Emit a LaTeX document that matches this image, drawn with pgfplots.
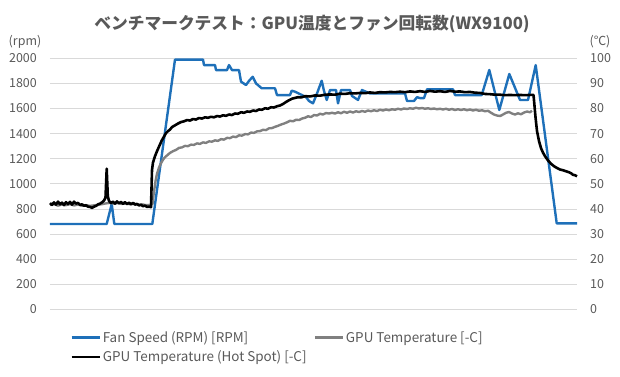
\documentclass[border=0pt]{standalone}
\usepackage{pgfplots}
\pgfplotsset{compat=1.18}
\usepackage{fontspec}
\setmainfont{Noto Sans CJK JP}
\definecolor{fanblue}{RGB}{30,112,185}
\definecolor{tgray}{RGB}{128,128,128}
\definecolor{txt}{RGB}{89,89,89}
\definecolor{gridc}{RGB}{217,217,217}
\pgfplotsset{
  base/.style={
    at={(0,0)}, anchor=south west, scale only axis,
    width=527bp, height=251bp, xmin=50, xmax=577,
    xtick=\empty, axis line style={draw=none}, major tick length=0pt,
    /pgf/number format/assume math mode=true,
    yticklabel style={font=\fontsize{12.5}{14}\selectfont, text=txt, inner sep=0pt},
    clip=false,
  },
}
\begin{document}
\begin{tikzpicture}[x=1bp,y=1bp]
\useasboundingbox (-50,-66.7) rectangle (570,309.3);
\begin{axis}[base, ymin=0, ymax=2000, ytick={0,200,...,2000},
  ymajorgrids, grid style={gridc, line width=0.8bp},
  yticklabel style={anchor=east, xshift=-13bp},
  /pgf/number format/1000 sep={}]
\addplot[fanblue, line width=2.4bp, line join=round] table {
50 680
106.7 680
111.7 840
114.3 680
152.3 680
175 1990
203 1990
204 1946
215 1946
216 1906
227 1906
229 1946
232 1906
239 1906
241 1814
246 1787
249 1820
252.7 1853
256 1800
261.7 1761
275 1761
277 1707
290 1707
291.7 1742
295 1734
302 1707
306 1690
309 1660
313 1641
317 1720
321.7 1821
324 1740
326.7 1668
330 1747
336 1747
338 1641
341 1747
350 1747
352 1700
358 1668
362 1747
370 1720
405 1720
407 1660
414 1660
417 1690
420 1683
424 1683
427 1753
453 1753
455 1707
481.7 1707
489.3 1907
499.3 1588
509.3 1875
520 1668
528 1668
535.7 1946
556.7 685
577 685
};
\end{axis}
\begin{axis}[base, ymin=0, ymax=100, ytick={0,10,...,100},
  yticklabel pos=right,
  yticklabel style={anchor=west, xshift=13bp},
  legend columns=2,
  legend cell align=left,
  legend style={at={(0.038,-0.0785)}, anchor=north west, draw=none, fill=none,
    inner sep=0pt, font=\fontsize{13.5}{16}\selectfont, text=txt, row sep=3bp,
    /tikz/every even column/.append style={column sep=5bp}},
  legend image code/.code={\draw[#1] (0bp,0bp) -- (28bp,0bp);}]
\addlegendimage{fanblue, line width=2.4bp}
\addlegendentry{Fan Speed (RPM) [RPM]}
\addplot[tgray, line width=2.4bp, line join=round] table {
50 41.6
54 41.9
58 41.3
62 41.8
66 41.5
70 41.9
74 41.4
78 41.7
82 41.3
86 41.5
90 41.2
94 41.4
98 41.6
102 41.9
106 42.2
110 42.4
114 42.1
118 42.3
122 42.0
126 42.2
130 41.9
134 42.1
138 41.7
142 41.8
146 41.5
150 41.6
152.5 42.0
154 47
155.5 51
157 54.0
159 56.5
161 58.2
163 59.6
165 60.6
167 61.3
170 62.3
173 63.0
176 63.5
179 64.3
182 64.5
185 65.1
188 65.0
191 65.6
194 65.5
197 66.1
200 65.9
203 66.5
206 66.3
209 66.9
212 66.8
215 67.3
218 67.1
221 67.8
224 67.6
227 68.3
230 68.2
233 68.8
236 68.6
239 69.3
242 69.2
245 69.8
248 69.7
251 70.4
254 70.3
257 70.9
260 71.0
263 71.5
266 71.4
269 72.1
272 72.2
275 72.7
278 73.1
281 73.6
284 74.0
287 74.5
290 75.1
293 74.9
296 75.5
299 75.4
302 76.0
305 76.3
308 76.9
311 76.6
314 77.4
317 77.2
320 77.9
323 77.6
326 78.2
329 78.0
332 78.3
335 78.0
338 78.5
341 78.1
344 78.7
347 78.3
350 78.8
353 78.4
356 78.9
359 78.6
362 79.0
365 78.7
368 79.2
371 78.9
374 79.3
377 79.0
380 79.5
383 79.2
386 79.6
389 79.3
392 79.7
395 79.5
398 79.9
401 79.6
404 80.0
407 79.8
410 80.1
413 79.9
416 80.3
419 80.0
422 80.2
425 79.9
428 80.1
431 79.8
434 80.0
437 79.7
440 79.9
443 79.6
446 79.9
449 79.5
452 79.8
455 79.4
458 79.7
461 79.4
464 79.7
467 79.3
470 79.6
473 79.2
476 79.5
479 79.1
482 79.3
485 78.9
488 79.1
491 78.3
494 77.6
497 77.2
500 77.0
503 77.6
506 78.3
509 78.6
512 78.0
515 77.6
518 78.1
521 77.7
524 78.4
527 78.8
530 78.5
532 79.1
};
\addlegendentry{GPU Temperature [-C]}
\addplot[black, line width=2.6bp, line join=round] table {
50 42.3
52 41.6
54 42.6
56 41.7
58 42.9
60 41.8
62 42.5
64 41.5
66 42.7
68 41.9
70 42.8
72 41.7
74 42.9
76 42.1
78 42.4
80 41.6
82 41.8
84 41.3
86 41.4
88 40.9
90 40.8
92 40.4
94 40.9
96 41.2
98 41.8
100 42.1
102 42.6
104 43.3
105.5 44.5
106.7 56.0
107.8 45.0
109 43.2
111 42.3
113 42.9
115 42.1
117 43.0
119 42.2
121 42.8
123 42.0
125 42.7
127 41.9
129 42.5
131 41.8
133 42.4
135 41.7
137 42.0
139 41.4
141 41.6
143 41.1
145 41.3
147 40.8
149 40.9
151 40.7
152 55.5
153 58.5
155 61.0
157 63.0
159 64.8
161.7 67.2
164 68.8
166 70.2
168 71.0
170 71.6
172 72.6
175 73.3
178 74.0
181 74.6
184 74.9
187 75.4
190 75.2
193 75.8
196 75.6
199 76.2
202 76.0
205 76.5
208 76.3
211 76.7
214 76.5
217 77.0
220 76.8
223 77.3
226 77.1
229 77.6
232 77.4
235 78.0
238 77.9
241 78.5
244 78.3
247 78.8
250 78.7
253 79.2
256 79.0
259 79.6
262 79.5
265 80.1
268 79.9
271 80.5
274 80.4
277 80.9
280 81.2
283 81.8
286 82.6
289 83.3
292 83.9
295 84.2
298 84.5
301 84.4
305 84.9
310 84.8
315 85.2
320 85.1
325 85.5
330 85.6
335 85.5
340 85.9
345 85.8
350 86.1
355 86.0
360 86.2
365 86.1
370 86.4
375 86.2
380 86.5
385 86.4
390 86.6
395 86.5
400 86.7
405 86.5
410 86.8
415 86.6
420 86.9
425 86.6
430 87.0
435 86.7
440 86.9
445 86.6
450 87.0
455 86.7
460 86.8
465 86.5
470 86.6
475 86.3
480 86.2
485 85.8
490 85.7
495 85.5
500 85.5
505 85.3
510 85.4
515 85.3
520 85.4
525 85.3
530 85.4
533.5 85.4
534.5 81
535.5 76.5
537 71
539 67
541 64.2
543 62.4
545 61.0
548 59.3
551 58.0
554 57.0
557 56.3
560 55.7
563 55.4
566 55.0
569 54.6
571 54.2
573 53.6
575 53.4
577 53.0
};
\addlegendentry{GPU Temperature (Hot Spot) [-C]}
\end{axis}
\node[text=txt, font=\bfseries\fontsize{16.8}{20}\selectfont] at (262,285.3) {ベンチマークテスト：GPU温度とファン回転数(WX9100)};
\node[text=txt, font=\fontsize{12.5}{14}\selectfont] at (-25,267.3) {(rpm)};
\node[text=txt, font=\fontsize{12.5}{14}\selectfont] at (550,267.3) {(℃)};
\end{tikzpicture}
\end{document}
